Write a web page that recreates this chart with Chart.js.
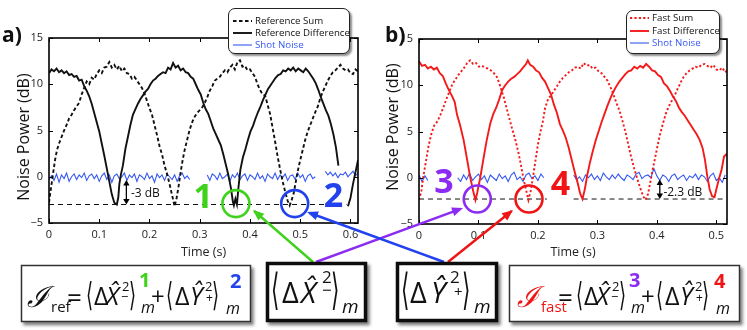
<!DOCTYPE html>
<html><head><meta charset="utf-8">
<script src="https://cdn.jsdelivr.net/npm/chart.js@4.4.1/dist/chart.umd.min.js"></script>
<style>
html,body{margin:0;padding:0;background:#fff;}
#wrap{position:relative;width:747px;height:330px;overflow:hidden;font-family:"Open Sans",sans-serif;}
canvas{position:absolute;top:0;}
#cA{left:0;} #cB{left:370px;}
.legend{position:absolute;background:#fff;border:1px solid #222;border-radius:7px;box-shadow:2px 2px 2px rgba(0,0,0,0.45);box-sizing:border-box;font-size:9.7px;color:#111;}
.legend .row{position:absolute;left:0;height:12px;line-height:12px;white-space:nowrap;width:100%;}
.legend svg{position:absolute;top:0;}
#ov{position:absolute;left:0;top:0;}
</style></head><body><div id="wrap">
<canvas id="cA" width="370" height="262"></canvas>
<canvas id="cB" width="377" height="262"></canvas>
<div id="legA" class="legend" style="left:228px;top:8px;width:122px;height:46px"></div>
<div id="legB" class="legend" style="left:626px;top:10px;width:94px;height:44px"></div>
<svg id="ov" width="747" height="330" xmlns="http://www.w3.org/2000/svg"></svg>
</div>
<script>
// ---------------- data ----------------
const ticksY = [-5, 0, 5, 10, 15];
const ticksXA = [0, 0.1, 0.2, 0.3, 0.4, 0.5, 0.6];
const ticksXB = [0, 0.1, 0.2, 0.3, 0.4, 0.5];

// panel a) Reference
const refSumT = [0,0.004,0.008,0.012,0.016,0.02,
0.025,0.03,0.035,0.04,0.045,0.05,0.055,0.06,0.065,0.07,
0.075,0.08,0.085,0.09,0.095,0.1,0.105,0.11,0.115,0.12,
0.125,0.13,0.135,0.14,0.145,0.15,0.155,0.16,0.165,0.17,
0.175,0.18,0.185,0.19,0.195,0.2,0.205,0.21,0.215,0.22,
0.225,0.23,0.235,0.24,0.245,
0.25,0.254,0.258,0.262,0.266,0.27,
0.275,0.28,0.285,0.29,0.295,0.3,0.305,0.31,0.315,0.32,
0.325,0.33,0.335,0.34,0.345,0.35,0.355,0.36,0.365,0.37,
0.375,0.38,0.385,0.39,0.395,0.4,0.405,0.41,0.415,0.42,
0.425,0.43,0.435,0.44,0.445,0.45,0.455,0.46,0.465,0.47,
0.475,
0.479,0.483,0.487,0.491,0.495,
0.5,0.505,0.51,0.515,0.52,0.525,0.53,0.535,0.54,0.545,
0.55,0.555,0.56,0.565,0.57,0.575,0.58,0.585,0.59,0.595,
0.6,0.605,0.61,0.615];
const refSumDb = [-2.8,-1.2,0.3,1.8,2.9,3.6,
4.3,5.0,5.6,6.3,6.7,7.2,7.6,8.0,8.9,9.6,
10.3,10.0,10.7,10.5,11.1,11.5,11.2,11.8,11.9,12.4,
11.8,12.1,11.6,12.0,11.4,11.7,11.2,11.1,10.6,10.8,
10.4,10.0,9.6,9.0,8.2,7.4,6.7,5.6,4.5,3.3,
2.4,1.2,0.3,-0.8,-2.0,
-3.2,-2.3,-1.0,0.5,1.8,2.9,
4.0,5.1,5.9,6.5,6.9,7.2,7.5,8.0,8.6,9.3,
9.8,10.4,10.6,10.8,11.2,11.5,11.3,11.8,12.1,11.6,
12.4,12.6,11.9,12.0,11.5,11.6,11.2,10.8,10.0,9.4,
8.9,8.8,7.8,6.8,5.3,3.8,2.2,0.8,-0.5,-1.6,
-2.6,
-3.1,-2.5,-1.8,-0.6,0.6,
1.8,2.9,4.0,4.9,5.6,6.3,7.0,7.6,8.5,9.2,
9.8,10.4,10.9,11.3,11.5,11.8,12.1,11.7,11.5,11.6,
11.2,11.1,11.6,11.4];

const refDiffT = [0,0.005,0.01,0.015,0.02,0.025,0.03,0.035,0.04,0.045,0.05,0.055,0.06,0.065,0.07,0.075,0.08,0.085,0.09,0.095,0.1,0.105,0.11,0.115,0.12,0.125,0.13,0.135,
0.138,0.14,0.143,0.147,
0.152,0.157,0.162,0.167,0.172,0.177,0.182,0.187,0.192,0.197,0.202,0.207,0.212,0.217,0.222,0.227,0.232,0.237,0.242,0.247,0.252,0.257,0.262,0.267,0.272,0.277,0.282,0.287,0.292,0.297,0.302,0.307,0.312,0.317,0.322,0.327,0.332,0.337,0.342,0.347,0.352,0.357,0.362,
0.366,0.368,0.371,0.374,0.377,
0.381,0.386,0.391,0.396,0.401,0.406,0.411,0.416,0.421,0.426,0.431,0.436,0.441,0.446,0.451,0.456,0.461,0.466,0.471,0.476,0.481,0.486,0.491,0.496,0.501,0.506,0.511,0.516,0.521,0.526,0.531,0.536,0.541,0.546,0.551,0.556,0.561,0.566,0.571,0.576,
0.581,0.586,0.59,0.595,0.6,0.605,0.61,0.615];
const refDiffDb = [11.2,11.6,11.4,11.7,11.3,11.5,11.2,11.4,11.0,11.1,10.8,10.9,10.4,10.5,9.8,9.3,8.7,7.9,6.9,5.9,4.9,3.6,2.3,0.9,-0.5,-1.9,-2.8,-3.0,
-2.2,-0.8,0.2,1.2,
3.0,4.3,5.6,6.7,7.3,7.9,8.4,8.8,9.2,9.5,10.0,10.4,10.6,10.9,11.1,11.3,11.2,11.8,11.6,12.3,11.8,12.0,11.5,11.7,11.3,11.2,10.8,10.6,10.0,9.4,8.9,8.0,7.3,6.8,6.0,5.2,4.6,4.0,3.4,2.4,1.3,0.2,-1.2,
-2.7,-3.1,-2.4,-3.0,-1.2,
0.8,2.1,3.0,4.0,4.9,5.5,6.3,7.0,7.6,8.3,8.9,9.5,9.9,10.3,10.7,11.0,11.1,11.5,11.4,11.7,11.5,11.8,11.4,11.7,11.5,11.3,11.7,11.4,11.0,10.6,10.1,9.4,8.6,7.9,7.2,6.6,5.7,4.6,3.2,1.2,
null,null,null,-3.2,-2.3,-0.8,0.5,1.8];

const shotStep = 0.005;
const shotDbA = [-0.3,0.1,-0.4,0.3,-0.6,0.2,-0.2,0.4,-0.5,0.0,
0.3,-0.3,0.2,-0.1,0.4,-0.4,0.1,0.3,-0.2,0.2,
-0.5,0.1,0.4,-0.3,0.2,-0.6,0.1,0.3,-0.2,0.0,
0.4,-0.4,0.2,-0.1,0.3,-0.5,0.2,0.0,-0.3,0.4,
-0.2,0.1,-0.6,0.3,-0.1,0.2,-0.4,0.3,0.0,-0.3,
0.2,-0.5,0.1,0.4,-0.2,0.1,-0.3,
null,null,null,null,null,null,
0.2,-0.4,0.3,0.1,-0.3,0.4,-0.2,
0.0,0.3,-0.5,0.2,-0.1,0.4,-0.3,0.1,0.3,-0.4,
0.2,0.0,-0.3,0.4,-0.2,0.1,-0.5,0.3,0.0,-0.2,
0.4,-0.3,0.2,-0.1,0.3,-0.4,0.1,0.2,-0.3,0.4,
-0.1,0.2,-0.5,0.1,0.3,-0.2,0.0,
null,null,null,
0.6,0.2,0.5,0.1,0.4,-0.1,0.3,0.2,0.5,0.0,0.3,0.6,0.1,0.4];

const refLineAT = [0, 0.592];
const refLineADb = [-3, -3];

// panel b) Fast
const fastSumT = [0,0.004,0.008,0.012,0.016,
0.021,0.026,0.031,0.036,0.041,0.046,0.051,0.056,0.061,0.066,0.071,0.076,0.081,0.086,0.091,0.096,0.101,0.106,0.111,0.116,0.121,0.126,0.131,
0.135,0.139,0.143,0.147,
0.152,0.157,0.162,0.167,0.172,
0.176,0.18,0.184,0.188,0.192,0.196,0.2,0.204,0.208,0.212,
0.217,0.222,0.227,0.232,0.237,0.242,0.247,0.252,0.257,0.262,0.267,0.272,0.277,0.282,0.287,0.292,0.297,0.302,0.307,0.312,0.317,0.322,0.327,0.332,0.337,0.342,0.347,0.352,0.357,0.362,0.367,0.372,0.377,
0.381,0.385,0.389,0.393,0.397,0.401,0.405,
0.41,0.415,0.42,0.425,0.43,0.435,0.44,0.445,0.45,0.455,0.46,0.465,0.47,0.475,0.48,0.485,0.49,0.495,0.5,0.505,0.51,0.515,
0.518];
const fastSumDb = [-2.4,-1.4,0.4,1.9,3.4,
4.8,5.7,6.1,6.8,7.6,8.5,9.3,10.1,10.6,11.1,11.5,11.9,12.4,12.7,12.3,12.4,12.0,12.1,11.9,11.8,11.6,11.3,10.9,
10.2,9.4,8.6,7.6,
6.4,5.2,4.1,2.8,1.2,
-0.2,-1.3,-2.4,-1.4,0.2,1.9,3.6,4.9,6.0,7.5,
8.5,8.9,9.4,9.9,10.4,10.8,11.1,11.4,11.6,11.9,12.0,11.8,12.4,12.1,12.2,11.8,11.9,11.5,11.3,10.9,10.5,9.8,9.0,8.1,7.3,6.2,5.0,3.6,2.2,1.0,-0.1,-1.1,-2.0,
-2.4,-1.8,-0.5,0.9,2.1,3.4,4.6,
5.8,6.9,7.7,8.3,8.9,9.6,10.3,10.9,11.3,11.6,11.8,12.0,11.9,12.2,12.3,12.1,11.9,12.2,11.7,11.6,11.9,11.4,
11.6];

const fastDiffT = [0,0.005,0.01,0.015,0.02,0.025,0.03,0.035,0.04,0.045,0.05,0.055,0.06,
0.064,0.069,0.075,0.08,0.086,0.091,0.095,0.098,0.103,0.108,0.114,0.12,
0.125,0.13,0.135,0.14,0.145,0.15,0.155,0.16,0.165,0.17,0.175,0.18,
0.183,
0.187,0.192,0.197,0.202,0.207,0.212,0.217,0.222,0.227,0.232,0.237,0.242,0.247,0.252,0.257,0.262,0.267,
0.271,0.275,0.279,0.283,0.287,
0.292,0.297,0.302,0.307,0.312,0.317,0.322,0.327,0.332,0.337,0.342,0.347,0.352,0.357,0.362,0.367,0.372,0.377,0.382,0.387,0.392,0.397,0.402,0.407,0.412,0.417,0.422,0.427,0.432,0.437,0.442,0.447,0.452,0.457,0.462,0.467,0.472,0.477,
0.481,0.485,0.489,0.493,0.497,0.501,0.505,0.509,0.513,0.518];
const fastDiffDb = [12.6,12.1,12.2,11.8,12.0,11.7,11.9,11.3,11.0,10.2,9.5,8.9,8.2,
6.8,5.7,4.1,2.3,0.1,-1.4,-2.4,-1.6,0.0,1.9,4.1,5.9,
6.9,7.6,8.5,9.5,10.0,10.4,10.7,10.9,11.2,11.5,11.9,12.3,
12.7,
12.2,12.0,11.6,11.4,10.8,10.4,9.7,9.0,7.9,7.0,5.8,5.1,4.3,3.2,1.9,0.6,-0.6,
-1.7,-2.3,-1.2,0.3,1.5,
2.8,4.0,5.0,6.0,6.9,7.8,8.6,9.3,9.9,10.4,10.8,11.2,11.5,11.6,12.0,11.8,12.1,11.9,12.3,12.0,11.6,11.5,11.1,10.9,10.2,9.9,9.4,8.8,8.3,7.6,7.1,6.7,6.2,5.7,5.2,4.7,4.1,3.2,
1.9,0.1,-1.3,-2.0,-2.1,-1.0,0.0,0.9,2.3,2.6];

const shotDbB = [0.3,-0.4,0.2,-0.3,
null,null,null,null,null,null,null,null,null,
0.0,-0.4,0.3,-0.2,0.5,-0.3,0.1,
0.4,-0.2,0.2,-0.5,0.3,0.0,-0.3,0.4,-0.1,0.2,
-0.4,0.3,0.6,-0.2,0.1,-0.4,0.3,0.5,-0.1,0.2,
-0.3,0.4,0.0,
null,null,null,null,null,null,null,null,null,
0.3,-0.2,0.1,-0.4,0.3,0.0,0.4,-0.2,
0.2,-0.3,0.5,0.1,-0.2,0.3,-0.1,0.4,0.0,-0.3,
0.3,0.1,-0.2,0.4,0.6,-0.1,0.2,0.3,0.0,1.0,
0.2,-0.3,0.3,0.1,-0.4,0.2,0.4,-0.2,0.1,0.3,
-0.3,0.2,0.0,0.4,-0.2,0.3,0.1,-0.4,0.2,0.5,
-0.3,0.0,-0.5,0.3];

const refLineBT = [0, 0.215, 0.237, 0.26, 0.512];
const refLineBDb = [-2.3, -2.3, null, -2.3, -2.3];

// ---------------- styling ----------------
const BLACK = '#111111', RED = '#f41a1a', SHOT = '#3558f2';
const GREEN = '#3fd21c', BLUE2 = '#2242ee', PURPLE = '#8c2cf2', RED2 = '#f01414';
const FONT = '"Open Sans", sans-serif';

function xy(t, v) {
  if (t.length !== v.length) throw new Error('length mismatch ' + t.length + ' vs ' + v.length);
  return t.map((x, i) => ({x, y: v[i]}));
}
function xyStep(v) { return v.map((y, i) => ({x: +(i * shotStep).toFixed(3), y})); }

const annotPlugin = {
  id: 'annot',
  afterDatasetsDraw(chart, args, o) {
    const {ctx, chartArea: a, scales: {x, y}} = chart;
    ctx.save();
    ctx.strokeStyle = '#000';
    ctx.lineWidth = 1;
    ctx.beginPath();
    o.xTicks.forEach(v => { const p = Math.round(x.getPixelForValue(v)) + 0.5; ctx.moveTo(p, a.bottom); ctx.lineTo(p, a.bottom - 4); ctx.moveTo(p, a.top); ctx.lineTo(p, a.top + 4); });
    o.yTicks.forEach(v => { const p = Math.round(y.getPixelForValue(v)) + 0.5; ctx.moveTo(a.left, p); ctx.lineTo(a.left + 4, p); ctx.moveTo(a.right, p); ctx.lineTo(a.right - 4, p); });
    ctx.stroke();
    ctx.lineWidth = 1.6;
    ctx.strokeRect(a.left, a.top, a.right - a.left, a.bottom - a.top);
    const d = o.db;
    const ax = x.getPixelForValue(d.x), y1 = y.getPixelForValue(d.y1), y2 = y.getPixelForValue(d.y2);
    ctx.fillStyle = '#000'; ctx.lineWidth = 1.3;
    ctx.beginPath(); ctx.moveTo(ax, y1 + 3); ctx.lineTo(ax, y2 - 3); ctx.stroke();
    ctx.beginPath(); ctx.moveTo(ax, y1); ctx.lineTo(ax - 3.2, y1 + 5.5); ctx.lineTo(ax + 3.2, y1 + 5.5); ctx.closePath(); ctx.fill();
    ctx.beginPath(); ctx.moveTo(ax, y2); ctx.lineTo(ax - 3.2, y2 - 5.5); ctx.lineTo(ax + 3.2, y2 - 5.5); ctx.closePath(); ctx.fill();
    ctx.fillStyle = '#111';
    ctx.font = '12px ' + FONT; ctx.textAlign = 'left'; ctx.textBaseline = 'alphabetic';
    ctx.fillText(d.text, x.getPixelForValue(d.tx), y.getPixelForValue(d.ty));
    o.marks.forEach(m => {
      ctx.strokeStyle = m.color; ctx.lineWidth = 2.6;
      ctx.beginPath(); ctx.arc(x.getPixelForValue(m.x), y.getPixelForValue(m.y), 13.5, 0, Math.PI * 2); ctx.stroke();
      ctx.fillStyle = m.color; ctx.font = 'bold 34px ' + FONT; ctx.textAlign = 'center';
      ctx.fillText(m.label, x.getPixelForValue(m.lx), y.getPixelForValue(m.ly));
    });
    ctx.restore();
  }
};

function build(id, p) {
  const tickFont = {family: FONT, size: 11};
  return new Chart(document.getElementById(id), {
    type: 'line',
    plugins: [annotPlugin],
    data: {datasets: [
      {label: p.sumLabel, data: p.sum, borderColor: p.color, borderWidth: 1.9, borderDash: p.sumDash, legendText: '#111'},
      {label: p.diffLabel, data: p.diff, borderColor: p.color, borderWidth: 1.9, legendText: '#111'},
      {label: 'Shot Noise', data: p.shot, borderColor: SHOT, borderWidth: 1.1, legendText: SHOT},
      {label: 'ref', data: p.ref, borderColor: '#111', borderWidth: 1, borderDash: [5, 4], noLegend: true}
    ]},
    options: {
      responsive: false, animation: false, devicePixelRatio: 1,
      layout: {padding: {left: 0, right: p.padRight, top: p.padTop, bottom: 0}},
      elements: {point: {radius: 0, hoverRadius: 0}, line: {tension: 0, fill: false}},
      spanGaps: false,
      events: [],
      plugins: {legend: {display: false}, tooltip: {enabled: false},
        annot: {xTicks: p.xTicks, yTicks: ticksY, db: p.db, marks: p.marks}},
      scales: {
        x: {type: 'linear', min: 0, max: p.xMax,
          grid: {display: false, drawTicks: false}, border: {display: false},
          afterBuildTicks: s => { s.ticks = p.xTicks.map(v => ({value: v})); },
          afterFit: s => { s.height = p.xHeight; },
          ticks: {padding: 5, color: '#222', font: tickFont, maxRotation: 0, autoSkip: false,
            callback: v => v === 0 ? '0' : v.toFixed(1)},
          title: {display: true, text: 'Time (s)', color: '#222', font: {family: FONT, size: 12.5}, padding: {top: 0, bottom: 2}}},
        y: {type: 'linear', min: -5, max: 15,
          grid: {display: false, drawTicks: false}, border: {display: false},
          afterBuildTicks: s => { s.ticks = ticksY.map(v => ({value: v})); },
          afterFit: s => { s.width = 49; },
          ticks: {padding: 6, color: '#222', font: tickFont,
            callback: v => v < 0 ? '\u2212' + Math.abs(v) : String(v)}}
      }
    }
  });
}

const chartA = build('cA', {
  color: BLACK, sumLabel: 'Reference Sum', diffLabel: 'Reference Difference', sumDash: [3.5, 2.5],
  sum: xy(refSumT, refSumDb), diff: xy(refDiffT, refDiffDb), shot: xyStep(shotDbA), ref: xy(refLineAT, refLineADb),
  xMax: 0.615, xTicks: ticksXA, padRight: 12, padTop: 38, xHeight: 39,
  db: {x: 0.154, y1: -0.35, y2: -3.0, text: '-3 dB', tx: 0.163, ty: -2.2},
  marks: [
    {x: 0.372, y: -2.9, color: GREEN, label: '1', lx: 0.307, ly: -3.35},
    {x: 0.489, y: -2.9, color: BLUE2, label: '2', lx: 0.566, ly: -3.25}
  ]
});
const chartB = build('cB', {
  color: RED, sumLabel: 'Fast Sum', diffLabel: 'Fast Difference', sumDash: [2.2, 2.2],
  sum: xy(fastSumT, fastSumDb), diff: xy(fastDiffT, fastDiffDb), shot: xyStep(shotDbB), ref: xy(refLineBT, refLineBDb),
  xMax: 0.518, xTicks: ticksXB, padRight: 20, padTop: 39, xHeight: 38,
  db: {x: 0.405, y1: -0.2, y2: -2.3, text: '-2.3 dB', tx: 0.411, ty: -1.95},
  marks: [
    {x: 0.098, y: -2.3, color: PURPLE, label: '3', lx: 0.042, ly: -1.65},
    {x: 0.185, y: -2.3, color: RED2, label: '4', lx: 0.238, ly: -1.85}
  ]
});

// ---------------- html legends ----------------
function htmlLegend(chart, el, top0, gap, lineLeft, textLeft) {
  chart.data.datasets.filter(d => !d.noLegend).forEach((d, i) => {
    const row = document.createElement('div');
    row.className = 'row';
    row.style.top = (top0 + gap * i) + 'px';
    row.innerHTML = '<svg width="20" height="12" style="left:' + lineLeft + 'px"><line x1="0" y1="6" x2="19" y2="6" stroke="' + d.borderColor +
      '" stroke-width="' + d.borderWidth + '" stroke-dasharray="' + (d.borderDash || []).join(' ') + '"/></svg>' +
      '<span style="position:absolute;left:' + textLeft + 'px;color:' + d.legendText + '">' + d.label + '</span>';
    el.appendChild(row);
  });
}
htmlLegend(chartA, document.getElementById('legA'), 6, 12, 4, 26);
htmlLegend(chartB, document.getElementById('legB'), 1, 12.5, 3, 25);

// ---------------- overlay: labels, arrows, formula boxes ----------------
const NS = 'http://www.w3.org/2000/svg';
const ov = document.getElementById('ov');
function el(tag, attrs, parent) {
  const e = document.createElementNS(NS, tag);
  for (const k in attrs) e.setAttribute(k, attrs[k]);
  (parent || ov).appendChild(e);
  return e;
}
const defs = el('defs', {});
const filt = el('filter', {id: 'sh', x: '-10%', y: '-10%', width: '130%', height: '140%'}, defs);
el('feDropShadow', {dx: 2.5, dy: 3, stdDeviation: 1.4, 'flood-color': '#000', 'flood-opacity': 0.5}, filt);
function txt(s, x, y, size, o) {
  o = o || {};
  const a = {'font-size': size, 'font-family': o.f || FONT, fill: o.c || '#111'};
  if (o.i) a['font-style'] = 'italic';
  if (o.b) a['font-weight'] = 'bold';
  if (o.anchor) a['text-anchor'] = o.anchor;
  if (o.sx || o.sy || o.rot) {
    a.transform = 'translate(' + x + ',' + y + ')' + (o.rot ? ' rotate(' + o.rot + ')' : '') + ' scale(' + (o.sx || 1) + ',' + (o.sy || 1) + ')';
  } else { a.x = x; a.y = y; }
  const t = el('text', a);
  t.textContent = s;
  return t;
}
txt('a)', 2, 42, 21, {b: 1});
txt('b)', 385, 42, 21, {b: 1});
txt('Noise Power (dB)', 28.5, 137, 16, {rot: -90, anchor: 'middle'});
txt('Noise Power (dB)', 398, 127, 16, {rot: -90, anchor: 'middle'});

function arrow(x1, y1, x2, y2, c) {
  el('line', {x1, y1, x2: x2 - (x2 - x1) * 0.02, y2: y2 - (y2 - y1) * 0.02, stroke: c, 'stroke-width': 2.5});
  const ang = Math.atan2(y2 - y1, x2 - x1), L = 11, W = 4.5;
  const bx = x2 - L * Math.cos(ang), by = y2 - L * Math.sin(ang);
  const px = -Math.sin(ang) * W, py = Math.cos(ang) * W;
  el('path', {d: 'M' + x2 + ',' + y2 + ' L' + (bx + px) + ',' + (by + py) + ' L' + (bx - px) + ',' + (by - py) + ' Z', fill: c});
}
arrow(313, 262, 253, 210, GREEN);
arrow(316, 262, 463, 208, PURPLE);
arrow(444, 262, 307, 212, BLUE2);
arrow(448, 262, 513, 210, RED2);

el('rect', {x: 21.5, y: 265.5, width: 229, height: 56, fill: '#fff', stroke: '#333', 'stroke-width': 1.5, filter: 'url(#sh)'});
el('rect', {x: 267.5, y: 263.5, width: 98, height: 57, fill: '#fff', stroke: '#111', 'stroke-width': 3.5, filter: 'url(#sh)'});
el('rect', {x: 397.5, y: 263.5, width: 99, height: 57, fill: '#fff', stroke: '#111', 'stroke-width': 3.5, filter: 'url(#sh)'});
el('rect', {x: 509.5, y: 265.5, width: 230, height: 56, fill: '#fff', stroke: '#333', 'stroke-width': 1.5, filter: 'url(#sh)'});

const DJ = '"DejaVu Sans", sans-serif';
const DJS = '"DejaVu Serif", serif';
function sumFormula(dx, sub, subW, c1, n1, c2, n2, hc, n2dx) {
  txt('\u2110', 27 + dx, 307, 29, {f: DJS, i: 1, c: hc});
  txt(sub, 51 + dx, 312, 15, {c: hc});
  txt('=', 52 + subW + dx, 307, 26);
  txt('\u27E8', 86 + dx, 306, 33, {f: DJ, sx: 0.55});
  txt('\u0394', 94 + dx, 305, 25);
  txt('X\u0302', 106 + dx, 305, 25, {i: 1});
  txt('2', 122 + dx, 291, 13);
  txt('\u2212', 121 + dx, 301, 13);
  txt('\u27E9', 129 + dx, 306, 33, {f: DJ, sx: 0.55});
  txt(n1, 139 + dx, 287, 20, {b: 1, c: c1});
  txt('m', 141 + dx, 313, 16, {i: 1});
  txt('+', 151 + dx, 305, 24);
  txt('\u27E8', 166 + dx, 306, 33, {f: DJ, sx: 0.55});
  txt('\u0394', 175 + dx, 305, 25);
  txt('Y\u0302', 190 + dx, 305, 25, {i: 1});
  txt('2', 205 + dx, 291, 13);
  txt('+', 206 + dx, 302, 12);
  txt('\u27E9', 212 + dx, 306, 33, {f: DJ, sx: 0.55});
  txt(n2, 230 + dx + n2dx, 288, 20, {b: 1, c: c2});
  txt('m', 226 + dx, 314, 16, {i: 1});
}
sumFormula(0, 'ref', 15, GREEN, '1', BLUE2, '2', '#111', 0);
sumFormula(490, 'fast', 16, PURPLE, '3', RED2, '4', RED2, -6);

txt('\u27E8', 271, 304, 43, {f: DJ, sx: 0.5});
txt('\u0394', 282, 303, 29);
txt('X\u0302', 301, 303, 29, {i: 1});
txt('2', 322, 283, 17);
txt('\u2212', 322, 296, 17);
txt('\u27E9', 331, 304, 43, {f: DJ, sx: 0.5});
txt('m', 342, 313, 19, {i: 1});

txt('\u27E8', 401, 304, 43, {f: DJ, sx: 0.5});
txt('\u0394', 410, 303, 29);
txt('Y\u0302', 431, 303, 29, {i: 1});
txt('2', 450, 283, 17);
txt('+', 454, 297, 15);
txt('\u27E9', 462, 304, 43, {f: DJ, sx: 0.5});
txt('m', 474, 313, 19, {i: 1});
</script>
</body></html>
